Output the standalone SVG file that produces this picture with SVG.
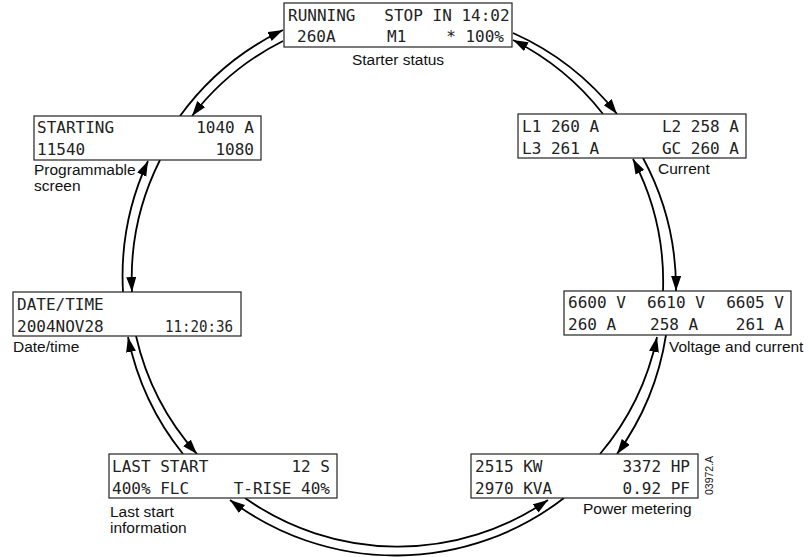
<svg xmlns="http://www.w3.org/2000/svg" width="809" height="557" viewBox="0 0 809 557">
<style>
.box{fill:#fff;stroke:#222;stroke-width:1.2}
.lcd{font-family:"DejaVu Sans Mono","Liberation Mono",monospace;font-size:16px;fill:#222;white-space:pre}
.lbl{font-family:"Liberation Sans",Arial,sans-serif;font-size:15.5px;fill:#111}
.e{text-anchor:end}
.arc{fill:none;stroke:#000;stroke-width:1.8;marker-end:url(#ah)}
</style>
<defs>
<marker id="ah" markerUnits="userSpaceOnUse" markerWidth="16" markerHeight="11" refX="15" refY="5" orient="auto" viewBox="0 0 16 11">
<path d="M0,0 L15,5 L0,10 z" fill="#000"/>
</marker>
</defs>
<rect width="809" height="557" fill="#fff"/>
<g id="connectors">
<path class="arc" d="M180,116 A275,275 0 0 1 283,30"/>
<path class="arc" d="M283,41 A265,265 0 0 0 192,116"/>
<path class="arc" d="M513,33 A275,275 0 0 1 617,114"/>
<path class="arc" d="M603,114 A265,265 0 0 0 513,40"/>
<path class="arc" d="M643,158 A275,275 0 0 1 676,291"/>
<path class="arc" d="M663,291 A265,265 0 0 0 633,159"/>
<path class="arc" d="M666,335 A275,275 0 0 1 617,454"/>
<path class="arc" d="M600,454 A265,265 0 0 0 657,337"/>
<path class="arc" d="M564,498 A275,275 0 0 1 230,500"/>
<path class="arc" d="M245,498 A265,265 0 0 0 548,500"/>
<path class="arc" d="M183,454 A275,275 0 0 1 128,337"/>
<path class="arc" d="M136,336 A265,265 0 0 0 197,454"/>
<path class="arc" d="M123,292 A275,275 0 0 1 148,161"/>
<path class="arc" d="M160,160 A265,265 0 0 0 132,292"/>
</g>
<g id="starter-status">
<rect class="box" x="284" y="3" width="228" height="44"/>
<text class="lcd" x="288" y="21">RUNNING   STOP IN 14:02</text>
<text class="lcd" x="297" y="42">260A</text>
<text class="lcd" x="387" y="42">M1</text>
<text class="lcd e" x="504" y="42">* 100%</text>
<text class="lbl" x="398" y="65" text-anchor="middle">Starter status</text>
</g>
<g id="current">
<rect class="box" x="518" y="114" width="228" height="44"/>
<text class="lcd" x="522" y="132">L1 260 A</text>
<text class="lcd e" x="739" y="132">L2 258 A</text>
<text class="lcd" x="522" y="154">L3 261 A</text>
<text class="lcd e" x="739" y="154">GC 260 A</text>
<text class="lbl" x="658" y="174">Current</text>
</g>
<g id="voltage-and-current">
<rect class="box" x="564" y="291" width="227" height="44"/>
<text class="lcd" x="568" y="308">6600 V</text>
<text class="lcd" x="647" y="308">6610 V</text>
<text class="lcd e" x="784" y="308">6605 V</text>
<text class="lcd" x="568" y="330">260 A</text>
<text class="lcd" x="650" y="330">258 A</text>
<text class="lcd e" x="784" y="330">261 A</text>
<text class="lbl" x="669" y="352">Voltage and current</text>
</g>
<g id="power-metering">
<rect class="box" x="471" y="454" width="227" height="44"/>
<text class="lcd" x="475" y="472">2515 KW</text>
<text class="lcd e" x="690" y="472">3372 HP</text>
<text class="lcd" x="475" y="494">2970 KVA</text>
<text class="lcd e" x="690" y="494">0.92 PF</text>
<text class="lbl" x="583" y="514">Power metering</text>
</g>
<g id="last-start">
<rect class="box" x="109" y="454" width="228" height="44"/>
<text class="lcd" x="112" y="472">LAST START</text>
<text class="lcd e" x="330" y="472">12 S</text>
<text class="lcd" x="112" y="494">400% FLC</text>
<text class="lcd e" x="330" y="494">T-RISE 40%</text>
<text class="lbl" x="110" y="517">Last start</text>
<text class="lbl" x="110" y="533">information</text>
</g>
<g id="date-time">
<rect class="box" x="13" y="292" width="228" height="44"/>
<text class="lcd" x="17" y="310">DATE/TIME</text>
<text class="lcd" x="17" y="332">2004NOV28</text>
<text class="lcd e" x="233" y="332" textLength="68" lengthAdjust="spacingAndGlyphs">11:20:36</text>
<text class="lbl" x="13" y="352">Date/time</text>
</g>
<g id="programmable-screen">
<rect class="box" x="34" y="116" width="227" height="44"/>
<text class="lcd" x="37" y="133">STARTING</text>
<text class="lcd e" x="254" y="133">1040 A</text>
<text class="lcd" x="37" y="155">11540</text>
<text class="lcd e" x="254" y="155">1080</text>
<text class="lbl" x="34" y="175">Programmable</text>
<text class="lbl" x="34" y="191">screen</text>
</g>
<text x="713" y="495" transform="rotate(-90 713 495)" font-family="Liberation Sans,Arial,sans-serif" font-size="10.5" fill="#111">03972.A</text>
</svg>
